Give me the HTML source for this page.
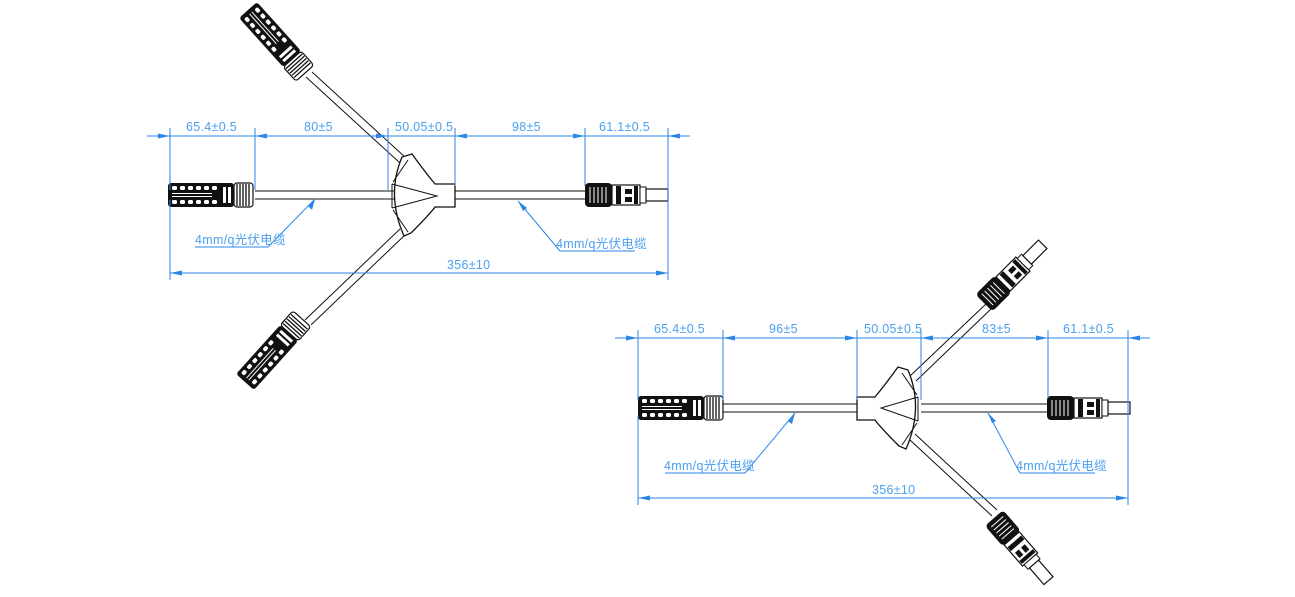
<!DOCTYPE html>
<html><head><meta charset="utf-8"><style>
html,body{margin:0;padding:0;background:#fff;}
svg{display:block;}
text{font-family:"Liberation Sans","Noto Sans CJK SC",sans-serif;font-size:12.5px;fill:#4a9ff0;letter-spacing:0.3px;}
</style></head><body>
<svg width="1295" height="597" viewBox="0 0 1295 597" xmlns="http://www.w3.org/2000/svg">
<defs>
<g id="fem">
  <rect x="0" y="-12" width="66" height="24" rx="3" fill="#111"/>
  <g fill="#fff">
    <rect x="4" y="-9" width="5" height="4" rx="1.5"/><rect x="12" y="-9" width="5" height="4" rx="1.5"/><rect x="20" y="-9" width="5" height="4" rx="1.5"/><rect x="28" y="-9" width="5" height="4" rx="1.5"/><rect x="36" y="-9" width="5" height="4" rx="1.5"/><rect x="44" y="-9" width="5" height="4" rx="1.5"/>
    <rect x="4" y="5" width="5" height="4" rx="1.5"/><rect x="12" y="5" width="5" height="4" rx="1.5"/><rect x="20" y="5" width="5" height="4" rx="1.5"/><rect x="28" y="5" width="5" height="4" rx="1.5"/><rect x="36" y="5" width="5" height="4" rx="1.5"/><rect x="44" y="5" width="5" height="4" rx="1.5"/>
    <rect x="4" y="-2" width="40" height="1"/><rect x="4" y="1" width="40" height="1"/>
    <rect x="55" y="-8" width="3" height="16"/><rect x="60" y="-8" width="3" height="16"/>
  </g>
  <rect x="66" y="-12" width="19" height="24" rx="3" fill="#fff" stroke="#111" stroke-width="1.2"/>
  <g stroke="#111" stroke-width="1.3"><line x1="69" y1="-11" x2="69" y2="11"/><line x1="72" y1="-11" x2="72" y2="11"/><line x1="75" y1="-11" x2="75" y2="11"/><line x1="78" y1="-11" x2="78" y2="11"/><line x1="81" y1="-11" x2="81" y2="11"/></g>
</g>
<g id="male">
  <rect x="0" y="-12" width="27" height="24" rx="4" fill="#111"/>
  <g stroke="#fff" stroke-width="1"><line x1="5" y1="-8" x2="5" y2="8"/><line x1="9" y1="-8" x2="9" y2="8"/><line x1="13" y1="-8" x2="13" y2="8"/><line x1="17" y1="-8" x2="17" y2="8"/><line x1="21" y1="-8" x2="21" y2="8"/></g>
  <rect x="27" y="-10" width="28" height="20" fill="#fff" stroke="#111" stroke-width="1.2"/>
  <rect x="31" y="-9" width="5" height="18" fill="#111"/><rect x="40" y="-6" width="7" height="5" fill="#111"/><rect x="40" y="2" width="7" height="5" fill="#111"/>
  <rect x="49" y="-9" width="4" height="18" fill="#111"/>
  <rect x="55" y="-8" width="6" height="16" fill="#fff" stroke="#111"/>
  <rect x="61" y="-6" width="22" height="12" fill="#fff" stroke="#111" stroke-width="1.2"/>
</g>
</defs>

<!-- ===== TOP DIAGRAM ===== -->
<g stroke="#111" stroke-width="1" fill="none">
  <line x1="255" y1="191" x2="455" y2="191"/><line x1="255" y1="199" x2="455" y2="199"/>
  <line x1="455" y1="191" x2="585" y2="191"/><line x1="455" y1="199" x2="585" y2="199"/>
  <line x1="400" y1="163" x2="306" y2="77"/><line x1="406" y1="158" x2="312" y2="72"/>
  <line x1="400" y1="229" x2="305" y2="320"/><line x1="406" y1="234" x2="311" y2="325"/>
  <path d="M402,157 Q386,195 404,236 L411,233 Q430,214 435,207 L455,207 L455,184 L435,184 Q425,172 412,154 Z" fill="#fff" stroke-width="1.3"/>
  <path d="M392,184 L437,196 L392,208 M393,182 L408,160 M393,210 L408,232 M392,184 L392,208"/>
</g>
<use href="#fem" transform="translate(168,195)"/>
<use href="#male" transform="translate(585,195)"/>
<use href="#fem" transform="translate(248,10) rotate(48)"/>
<use href="#fem" transform="translate(245,382) rotate(-48)"/>

<g stroke="#2b86e8" stroke-width="1" fill="#2b86e8">
  <line x1="170" y1="128" x2="170" y2="190"/><line x1="255" y1="128" x2="255" y2="190"/>
  <line x1="388" y1="128" x2="388" y2="190"/><line x1="455" y1="128" x2="455" y2="186"/>
  <line x1="585" y1="128" x2="585" y2="186"/><line x1="668" y1="128" x2="668" y2="280"/>
  <line x1="170" y1="200" x2="170" y2="280"/>
  <line x1="147" y1="136" x2="690" y2="136"/>
  <path d="M170,136 l-12,-2.5 v5z M255,136 l12,-2.5 v5z M388,136 l-12,-2.5 v5z M455,136 l12,-2.5 v5z M585,136 l-12,-2.5 v5z M668,136 l12,-2.5 v5z" stroke="none"/>
  <line x1="170" y1="273" x2="668" y2="273"/>
  <path d="M170,273 l12,-2.5 v5z M668,273 l-12,-2.5 v5z" stroke="none"/>
  <line x1="195" y1="247" x2="268" y2="247"/><line x1="268" y1="247" x2="315" y2="199"/>
  <path d="M315,199 l-3,11 l-4,-4z" stroke="none"/>
  <line x1="560" y1="251" x2="635" y2="251"/><line x1="560" y1="251" x2="518" y2="201"/>
  <path d="M518,201 l9,7 l-4,3z" stroke="none"/>
</g>
<text x="186" y="131">65.4±0.5</text>
<text x="304" y="131">80±5</text>
<text x="395" y="131">50.05±0.5</text>
<text x="512" y="131">98±5</text>
<text x="599" y="131">61.1±0.5</text>
<text x="195" y="244">4mm/q光伏电缆</text>
<text x="556" y="248">4mm/q光伏电缆</text>
<text x="447" y="269">356±10</text>

<!-- ===== BOTTOM DIAGRAM ===== -->
<g stroke="#111" stroke-width="1" fill="none">
  <line x1="723" y1="404" x2="857" y2="404"/><line x1="723" y1="412" x2="857" y2="412"/>
  <line x1="921" y1="404" x2="1047" y2="404"/><line x1="921" y1="412" x2="1047" y2="412"/>
  <line x1="910" y1="376" x2="986" y2="304"/><line x1="916" y1="381" x2="991" y2="309"/>
  <line x1="910" y1="440" x2="992" y2="516"/><line x1="915" y1="434" x2="997" y2="510"/>
  <path d="M908,370 Q924,408 906,449 L899,446 Q880,427 875,420 L857,420 L857,397 L875,397 Q885,385 898,367 Z" fill="#fff" stroke-width="1.3"/>
  <path d="M918,397 L881,408 L918,421 M917,395 L902,373 M917,423 L902,445 M918,397 L918,421"/>
</g>
<use href="#fem" transform="translate(638,408)"/>
<use href="#male" transform="translate(1047,408)"/>
<use href="#male" transform="translate(984,303) rotate(-45)"/>
<use href="#male" transform="translate(994,518) rotate(49)"/>

<g stroke="#2b86e8" stroke-width="1" fill="#2b86e8">
  <line x1="638" y1="330" x2="638" y2="400"/><line x1="723" y1="330" x2="723" y2="400"/>
  <line x1="857" y1="330" x2="857" y2="400"/><line x1="921" y1="330" x2="921" y2="400"/>
  <line x1="1048" y1="330" x2="1048" y2="398"/><line x1="1128" y1="330" x2="1128" y2="505"/>
  <line x1="638" y1="416" x2="638" y2="505"/>
  <line x1="615" y1="338" x2="1150" y2="338"/>
  <path d="M638,338 l-12,-2.5 v5z M723,338 l12,-2.5 v5z M857,338 l-12,-2.5 v5z M921,338 l12,-2.5 v5z M1048,338 l-12,-2.5 v5z M1128,338 l12,-2.5 v5z" stroke="none"/>
  <line x1="638" y1="498" x2="1128" y2="498"/>
  <path d="M638,498 l12,-2.5 v5z M1128,498 l-12,-2.5 v5z" stroke="none"/>
  <line x1="665" y1="473" x2="745" y2="473"/><line x1="745" y1="473" x2="795" y2="413"/>
  <path d="M795,413 l-3,11 l-4,-3z" stroke="none"/>
  <line x1="1020" y1="473" x2="1095" y2="473"/><line x1="1020" y1="473" x2="988" y2="413"/>
  <path d="M988,413 l8,8 l-4,2z" stroke="none"/>
</g>
<text x="654" y="333">65.4±0.5</text>
<text x="769" y="333">96±5</text>
<text x="864" y="333">50.05±0.5</text>
<text x="982" y="333">83±5</text>
<text x="1063" y="333">61.1±0.5</text>
<text x="664" y="470">4mm/q光伏电缆</text>
<text x="1016" y="470">4mm/q光伏电缆</text>
<text x="872" y="494">356±10</text>
</svg>
</body></html>
